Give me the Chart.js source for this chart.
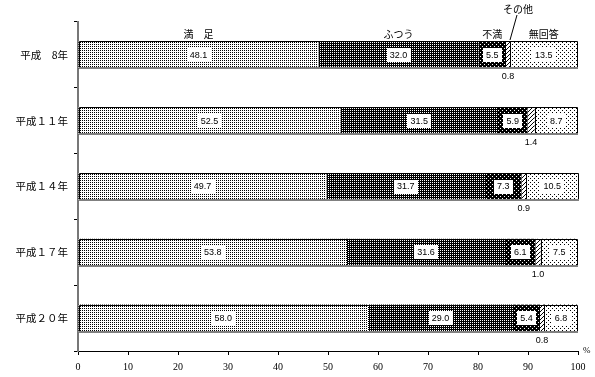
<!DOCTYPE html>
<html>
<head>
<meta charset="utf-8">
<script src="https://cdn.jsdelivr.net/npm/chart.js@4.4.1/dist/chart.umd.min.js"></script>
<style>
  body { margin: 0; background: #fff; }
  #wrap { width: 595px; height: 377px; }
</style>
</head>
<body>
<div id="wrap"><canvas id="c"></canvas></div>
<script>
// data
const years = ["平成　8年", "平成１１年", "平成１４年", "平成１７年", "平成２０年"];
const seriesNames = ["満　足", "ふつう", "不満", "その他", "無回答"];
const manzoku = [48.1, 52.5, 49.7, 53.8, 58.0];
const futsuu = [32.0, 31.5, 31.7, 31.6, 29.0];
const fuman = [5.5, 5.9, 7.3, 6.1, 5.4];
const sonota = [0.8, 1.4, 0.9, 1.0, 0.8];
const mukaitou = [13.5, 8.7, 10.5, 7.5, 6.8];
const xTicks = [0, 10, 20, 30, 40, 50, 60, 70, 80, 90, 100];

const canvas = document.getElementById("c");
const ctx = canvas.getContext("2d");

// little bitmap tiles for the fills
function pat(size, bg, fg, pts) {
  const c = document.createElement("canvas");
  c.width = c.height = size;
  const g = c.getContext("2d");
  g.fillStyle = bg;
  g.fillRect(0, 0, size, size);
  g.fillStyle = fg;
  pts.forEach(p => g.fillRect(p[0], p[1], 1, 1));
  return ctx.createPattern(c, "repeat");
}
const fills = [
  pat(2, "#fff", "#000", [[0, 0]]),
  pat(2, "#000", "#fff", [[0, 0]]),
  pat(4, "#000", "#fff", [[0, 0], [2, 2]]),
  pat(4, "#fff", "#000", [[0, 3], [1, 2], [2, 1], [3, 0]]),
  pat(4, "#fff", "#000", [[0, 0], [2, 2]])
];

const values = [manzoku, futsuu, fuman, sonota, mukaitou];
const datasets = values.map((v, i) => ({
  label: seriesNames[i],
  data: v,
  backgroundColor: fills[i],
  borderWidth: 0,
  barPercentage: 0.41,
  categoryPercentage: 1
}));

const JP = "'Noto Sans CJK JP', sans-serif";

const decor = {
  id: "decor",
  afterDatasetsDraw(chart) {
    const c = chart.ctx;
    const metas = datasets.map((d, i) => chart.getDatasetMeta(i));
    c.save();
    years.forEach((y, j) => {
      const first = metas[0].data[j];
      const last = metas[4].data[j];
      const top = Math.round(first.y - first.height / 2);
      const bot = Math.round(first.y + first.height / 2);
      const x0 = Math.round(first.base);
      const x1 = Math.round(last.x);
      // outline: black top and sides, grey bottom
      c.strokeStyle = "#000";
      c.lineWidth = 1;
      c.beginPath();
      c.moveTo(x0 + 0.5, bot);
      c.lineTo(x0 + 0.5, top + 0.5);
      c.lineTo(x1 - 0.5, top + 0.5);
      c.lineTo(x1 - 0.5, bot);
      const sx = Math.round(metas[4].data[j].base) + 0.5;
      c.moveTo(sx, top);
      c.lineTo(sx, bot);
      c.stroke();
      c.strokeStyle = "#808080";
      c.lineWidth = 2;
      c.beginPath();
      c.moveTo(x0, bot);
      c.lineTo(x1, bot);
      c.stroke();

      // value labels
      c.font = "9px 'Liberation Sans', sans-serif";
      c.textAlign = "center";
      c.textBaseline = "middle";
      metas.forEach((m, i) => {
        const el = m.data[j];
        const cx = (el.x + el.base) / 2;
        const txt = values[i][j].toFixed(1);
        if (i === 3) {
          c.fillStyle = "#000";
          c.fillText(txt, cx, bot + 9);
          return;
        }
        const w = c.measureText(txt).width + 6;
        c.fillStyle = "#fff";
        c.fillRect(Math.round(cx - w / 2), Math.round(el.y - 7), Math.round(w), 14);
        c.fillStyle = "#000";
        c.fillText(txt, cx, el.y + 0.5);
      });

      // series names over the first bar
      if (j === 0) {
        c.font = "10px " + JP;
        c.fillStyle = "#000";
        metas.forEach((m, i) => {
          const el = m.data[j];
          const cx = (el.x + el.base) / 2;
          if (i === 3) {
            c.fillText(seriesNames[i], cx + 10, 9);
            c.beginPath();
            c.lineWidth = 1;
            c.strokeStyle = "#000";
            c.moveTo(cx + 9, 15);
            c.lineTo(cx + 2, top - 1);
            c.stroke();
          } else {
            c.fillText(seriesNames[i], cx, top - 7);
          }
        });
      }
    });
    // unit
    const xs = chart.scales.x;
    c.font = "9px 'Liberation Serif', serif";
    c.fillStyle = "#000";
    c.textAlign = "left";
    c.fillText("%", xs.right + 5, xs.top);
    c.restore();
  }
};

new Chart(ctx, {
  type: "bar",
  data: { labels: years, datasets },
  options: {
    indexAxis: "y",
    responsive: true,
    maintainAspectRatio: false,
    animation: false,
    layout: { padding: { top: 22, right: 17, left: 0, bottom: 0 } },
    plugins: {
      legend: { display: false },
      tooltip: { enabled: false }
    },
    scales: {
      x: {
        stacked: true,
        min: 0,
        max: 100,
        afterBuildTicks: s => { s.ticks = xTicks.map(v => ({ value: v })); },
        afterFit: s => { s.height = 26; },
        grid: { drawOnChartArea: false, color: "#000", tickLength: 4 },
        border: { color: "#000", width: 1 },
        ticks: {
          color: "#000",
          padding: 6,
          maxRotation: 0,
          font: { family: "'Liberation Serif', serif", size: 10 }
        }
      },
      y: {
        stacked: true,
        afterFit: s => { s.width = 78; },
        grid: { drawOnChartArea: false, color: "#000", tickLength: 4, offset: true },
        border: { color: "#777", width: 2 },
        ticks: {
          color: "#000",
          padding: 6,
          font: { family: "'Noto Sans CJK JP', sans-serif", size: 10.5 }
        }
      }
    }
  },
  plugins: [decor]
});
</script>
</body>
</html>
